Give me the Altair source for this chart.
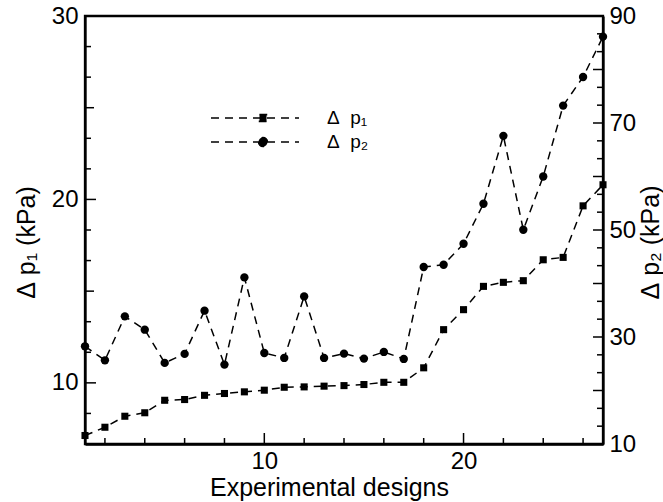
import altair as alt
import pandas as pd

# ---- data ----
designs = [1, 2, 3, 4, 5, 6, 7, 8, 9, 10, 11, 12, 13, 14, 15, 16, 17, 18, 19, 20,
           21, 22, 23, 24, 25, 26, 27]
dp1 = [7.13, 7.58, 8.18, 8.37, 9.05, 9.09, 9.32, 9.42, 9.51, 9.60, 9.76, 9.78,
       9.82, 9.85, 9.91, 10.03, 10.03, 10.82, 12.90, 13.99, 15.26, 15.48, 15.57,
       16.71, 16.84, 19.65, 20.80]
dp2 = [28.26, 25.64, 33.86, 31.37, 25.16, 26.84, 34.92, 24.84, 41.14, 27.02,
       26.09, 37.59, 26.09, 26.89, 25.96, 27.21, 25.90, 43.08, 43.51, 47.43,
       54.90, 67.60, 50.04, 60.00, 73.25, 78.60, 86.14]
series_names = ["Δ\u00a0\u00a0p₁", "Δ\u00a0\u00a0p₂"]

# axis labels and tick positions
x_labels = [10, 20]
x_major = [10, 20]
x_minor = [2, 4, 6, 8, 12, 14, 16, 18, 22, 24, 26]
y1_labels = [10, 20, 30]
y1_major = [10, 20]
y1_mid = [15, 25]
y1_minor = [8.3333, 11.6667, 13.3333, 16.6667, 18.3333, 21.6667, 23.3333,
            26.6667, 28.3333]
y2_labels = [10, 30, 50, 70, 90]
y2_major = [20, 30, 40, 50, 60, 70, 80]
y2_minor = [13.3333, 16.6667, 23.3333, 26.6667, 33.3333, 36.6667, 43.3333,
            46.6667, 53.3333, 56.6667, 63.3333, 66.6667, 73.3333, 76.6667,
            83.3333, 86.6667]

X_DOMAIN = [1, 27]
Y1_DOMAIN = [6.6667, 30]
Y2_DOMAIN = [10, 90]

df = pd.DataFrame({"design": designs, "dp1": dp1, "dp2": dp2})
leg_df = pd.DataFrame({"series": series_names})

FONT = "Liberation Sans"
DASH = [8, 6]


def xs():
    return alt.Scale(domain=X_DOMAIN, nice=False, zero=False)


def y1s():
    return alt.Scale(domain=Y1_DOMAIN, nice=False, zero=False)


def y2s():
    return alt.Scale(domain=Y2_DOMAIN, nice=False, zero=False)


x_axis = alt.Axis(
    values=x_labels, title="Experimental designs", format="d",
    ticks=False, labelPadding=5,
    titleX=244, titleY=43, titleBaseline="middle",
)
y1_axis = alt.Axis(
    values=y1_labels, orient="left", title="Δ\u00a0p₁ (kPa)", format="d",
    ticks=False, labelPadding=7,
    titleAngle=270, titleX=-59, titleY=226,
    titleBaseline="middle", titleAlign="center",
)
y2_axis = alt.Axis(
    values=y2_labels, orient="right", title="Δ\u00a0p₂ (kPa)", format="d",
    ticks=False, labelPadding=6,
    titleAngle=270, titleX=47, titleY=226,
    titleBaseline="middle", titleAlign="center",
)

base = alt.Chart(df)
x_main = alt.X("design:Q", scale=xs(), axis=x_axis)
x_hidden = alt.X("design:Q", scale=xs(), axis=None)
y1 = alt.Y("dp1:Q", scale=y1s(), axis=y1_axis)
y2 = alt.Y("dp2:Q", scale=y2s(), axis=y2_axis)

line1 = base.mark_line(color="black", strokeWidth=1.5, strokeDash=DASH).encode(x=x_main, y=y1)
pts1 = base.mark_point(shape="square", filled=True, color="black", size=50, opacity=1).encode(x=x_main, y=y1)
line2 = base.mark_line(color="black", strokeWidth=1.5, strokeDash=DASH).encode(x=x_hidden, y=y2)
pts2 = base.mark_point(shape="circle", filled=True, color="black", size=70, opacity=1).encode(x=x_hidden, y=y2)


# inward tick marks: short stroked symbols placed through the scales
def tick_mark(path, length):
    return dict(shape=path, size=4 * length * length, filled=False, fill="transparent",
                stroke="black", strokeWidth=1.5, opacity=1)


def y_ticks(values, at, length, scale, path):
    d = pd.DataFrame({"v": values})
    return alt.Chart(d).mark_point(**tick_mark(path, length)).encode(
        y=alt.Y("v:Q", scale=scale, axis=None),
        x=alt.XDatum(at, scale=xs(), axis=None),
    )


def x_ticks(values, length):
    d = pd.DataFrame({"v": values})
    return alt.Chart(d).mark_point(**tick_mark("M0,0V-1", length)).encode(
        x=alt.X("v:Q", scale=xs(), axis=None),
        y=alt.YDatum(Y1_DOMAIN[0], scale=y1s(), axis=None),
    )


g_left = alt.layer(line1, pts1)
g_right = alt.layer(line2, pts2)
g_ticks_left = alt.layer(
    y_ticks(y1_major, X_DOMAIN[0], 11, y1s(), "M0,0H1"),
    y_ticks(y1_mid, X_DOMAIN[0], 9, y1s(), "M0,0H1"),
    y_ticks(y1_minor, X_DOMAIN[0], 6, y1s(), "M0,0H1"),
    x_ticks(x_major, 11),
    x_ticks(x_minor, 6),
)
g_ticks_right = alt.layer(
    y_ticks(y2_major, X_DOMAIN[1], 10, y2s(), "M0,0H-1"),
    y_ticks(y2_minor, X_DOMAIN[1], 6, y2s(), "M0,0H-1"),
)

sq_path = "M-8.8,0H0M-3.95,-0.35H-3.25V0.35H-3.95Z"
ci_path = "M-8.8,0H0M-4.05,0A0.45,0.45 0 1,0 -3.15,0A0.45,0.45 0 1,0 -4.05,0Z"

legend_layer = alt.Chart(leg_df).mark_point(
    filled=False, fill="black", stroke="black", strokeWidth=1.5, strokeDash=DASH, opacity=1
).encode(
    shape=alt.Shape("series:N",
                    scale=alt.Scale(domain=series_names, range=[sq_path, ci_path]),
                    legend=alt.Legend(
                        orient="none", legendX=203, legendY=91, title=None,
                        symbolSize=400, symbolStrokeWidth=1.5, symbolDash=DASH,
                        symbolOpacity=1,
                        labelFont=FONT, labelFontSize=19, labelColor="black",
                        labelOffset=17, rowPadding=3, padding=0, labelLimit=0,
                    ))
).transform_filter("false")

chart = alt.layer(
    g_left, g_right, g_ticks_left, g_ticks_right, legend_layer,
).resolve_scale(x="independent", y="independent").properties(
    width=518, height=428,
    padding={"left": 85, "top": 16, "right": 60, "bottom": 58},
    autosize=alt.AutoSizeParams(type="none"),
    background="white",
).configure_view(
    stroke="black", strokeWidth=2.3
).configure_axis(
    labelFont=FONT, labelFontSize=24, labelColor="black",
    titleFont=FONT, titleFontSize=25, titleColor="black", titleFontWeight="normal",
    domainColor="black", domainWidth=2.3,
    grid=False, labelFlush=False, labelOverlap=False,
)

chart.save("out.html", embed_options={"renderer": "svg", "actions": False})
